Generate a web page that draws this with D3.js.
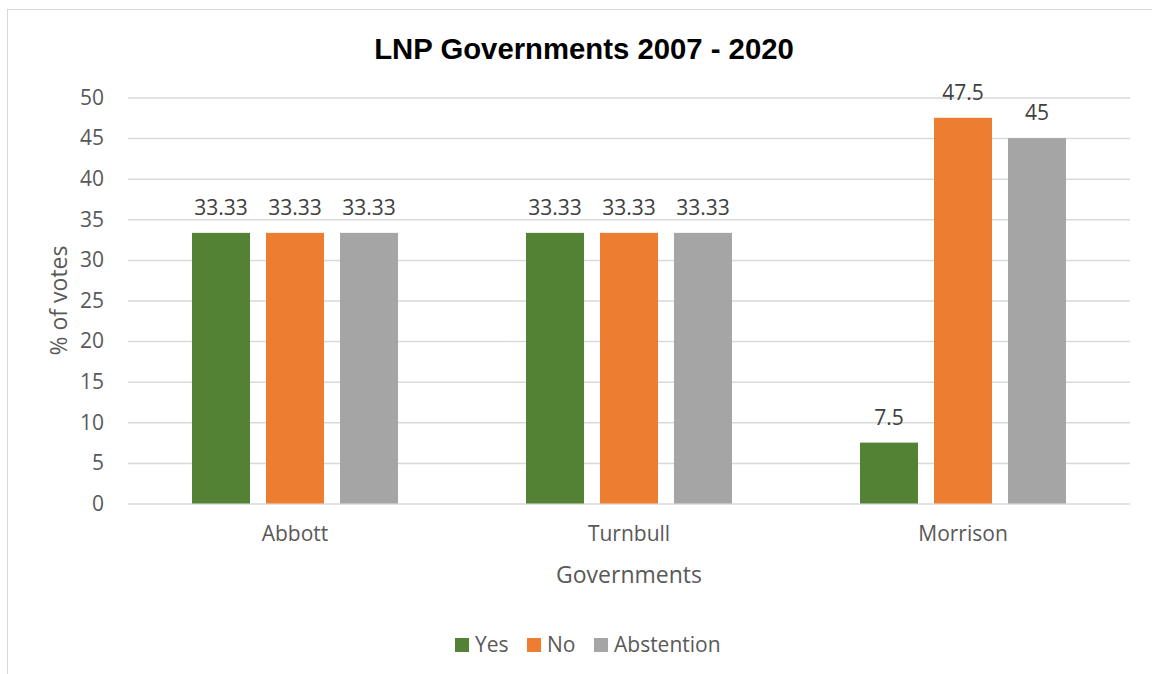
<!DOCTYPE html>
<html>
<head>
<meta charset="utf-8">
<script src="https://cdn.jsdelivr.net/npm/d3@7"></script>
<style>
  body { margin: 0; background: #fff; }
  text { font-family: "Open Sans", sans-serif; }
</style>
</head>
<body>
<div id="chart"></div>
<script>
const governments = ['Abbott', 'Turnbull', 'Morrison'];
const seriesNames = ['Yes', 'No', 'Abstention'];
const yesVotes = [33.33, 33.33, 7.5];
const noVotes = [33.33, 33.33, 47.5];
const abstentionVotes = [33.33, 33.33, 45];
const yTicks = [0, 5, 10, 15, 20, 25, 30, 35, 40, 45, 50];

const COLORS = ['#548235', '#ED7D31', '#A5A5A5'];

const WIDTH = 1152, HEIGHT = 674;
const PLOT_LEFT = 128, PLOT_RIGHT = 1130;
const PLOT_TOP = 97.5, PLOT_BOTTOM = 503.5;

const seriesValues = [yesVotes, noVotes, abstentionVotes];

const svg = d3.select('#chart').append('svg')
    .attr('width', WIDTH)
    .attr('height', HEIGHT);

// chart frame (runs past the right and bottom edges)
svg.append('rect')
    .attr('x', 7.5).attr('y', 9.5)
    .attr('width', 1300).attr('height', 800)
    .attr('fill', '#fff')
    .attr('stroke', '#D9D9D9');

svg.append('text')
    .attr('x', 584).attr('y', 59)
    .attr('text-anchor', 'middle')
    .style('font-family', '"Liberation Sans", Arial, sans-serif')
    .style('font-weight', 'bold')
    .style('font-size', '29.3px')
    .attr('fill', '#000')
    .text('LNP Governments 2007 - 2020');

const y = d3.scaleLinear().domain([0, 50]).range([PLOT_BOTTOM, PLOT_TOP]);

const x0 = d3.scaleBand().domain(governments).range([PLOT_LEFT, PLOT_RIGHT]);
const x1 = d3.scaleBand().domain(seriesNames)
    .range([0, x0.bandwidth()])
    .paddingInner(0.216)
    .paddingOuter(0.865);

// gridlines + y tick labels
const yAxis = d3.axisLeft(y)
    .tickValues(yTicks)
    .tickSize(-(PLOT_RIGHT - PLOT_LEFT))
    .tickPadding(24);

const yg = svg.append('g')
    .attr('transform', `translate(${PLOT_LEFT},0)`)
    .call(yAxis);
yg.select('.domain').remove();
yg.selectAll('.tick line').attr('stroke', '#D9D9D9').attr('stroke-width', 1.5);
yg.selectAll('.tick text')
    .attr('fill', '#595959')
    .style('font-size', '21px')
    .style('font-family', '"Open Sans", sans-serif');

// category axis
const xAxis = d3.axisBottom(x0).tickSize(0).tickPadding(23);
const xg = svg.append('g')
    .attr('transform', `translate(0,${PLOT_BOTTOM})`)
    .call(xAxis);
xg.select('.domain').remove();
xg.selectAll('.tick text')
    .attr('fill', '#595959')
    .style('font-size', '21px')
    .style('font-family', '"Open Sans", sans-serif');

// bars
const groups = svg.selectAll('.gov')
    .data(governments)
    .enter().append('g')
    .attr('class', 'gov')
    .attr('transform', d => `translate(${x0(d)},0)`);

groups.each(function(gov, gi) {
    const g = d3.select(this);
    seriesNames.forEach((s, si) => {
        const v = seriesValues[si][gi];
        g.append('rect')
            .attr('x', x1(s))
            .attr('y', y(v))
            .attr('width', x1.bandwidth())
            .attr('height', y(0) - y(v))
            .attr('fill', COLORS[si]);
        g.append('text')
            .attr('x', x1(s) + x1.bandwidth() / 2)
            .attr('y', y(v) - 18)
            .attr('text-anchor', 'middle')
            .attr('fill', '#404040')
            .style('font-size', '21px')
            .text(v);
    });
});

// axis titles
svg.append('text')
    .attr('transform', `translate(67,${(PLOT_TOP + PLOT_BOTTOM) / 2}) rotate(-90)`)
    .attr('text-anchor', 'middle')
    .attr('fill', '#595959')
    .style('font-size', '23px')
    .text('% of votes');

svg.append('text')
    .attr('x', (PLOT_LEFT + PLOT_RIGHT) / 2)
    .attr('y', 583)
    .attr('text-anchor', 'middle')
    .attr('fill', '#595959')
    .style('font-size', '23px')
    .text('Governments');

// legend
const legendX = [455, 527, 594];
const legend = svg.append('g');
seriesNames.forEach((s, i) => {
    legend.append('rect')
        .attr('x', legendX[i]).attr('y', 638)
        .attr('width', 14).attr('height', 14)
        .attr('fill', COLORS[i]);
    legend.append('text')
        .attr('x', legendX[i] + 20).attr('y', 652)
        .attr('fill', '#595959')
        .style('font-size', '21px')
        .text(s);
});
</script>
</body>
</html>
